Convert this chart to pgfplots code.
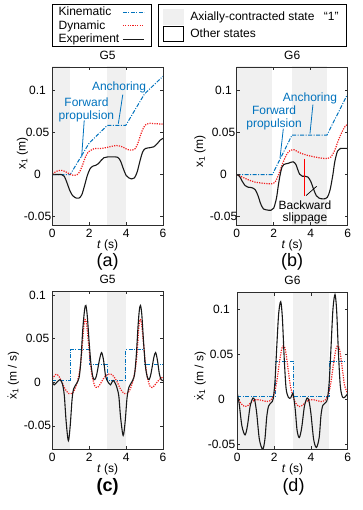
\documentclass[border=0pt]{standalone}
\usepackage{pgfplots}
\pgfplotsset{compat=1.18}
\usepackage{amsmath}
\usepackage{fontspec}
\setmainfont{Liberation Sans}

\definecolor{kblue}{RGB}{0,114,189}
\definecolor{dred}{RGB}{242,30,30}
\definecolor{bandgray}{RGB}{240,240,240}
\definecolor{axgray}{RGB}{45,45,45}

\newcommand{\fs}{\fontsize{12bp}{13.3bp}\selectfont}
\tikzset{annb/.style={kblue, line width=0.8bp}}

\pgfplotsset{
 panel/.style={
  scale only axis, anchor=south west,
  xmin=0, xmax=6, xtick={0,2,4,6}, xticklabels={0,2,4,6},
  tick align=inside, major tick length=3bp,
  axis line style={axgray, line width=0.8bp},
  tick style={axgray, line width=0.6bp},
  ticklabel style={font=\fs},
  xticklabel style={anchor=center, yshift=-8.5bp},
  label style={font=\fs},
  title style={font=\fs, at={(axis description cs:0.5,1)}, anchor=center, yshift=6bp},
  xlabel={\textit{t} (s)},
  xlabel style={at={(axis description cs:0.5,0)}, anchor=center, yshift=-20bp},
  axis on top,
  scaled y ticks=false,
  /pgf/number format/assume math mode=true,
 },
 kin/.style={kblue, line width=1bp, dash pattern=on 4bp off 1.5bp on 1bp off 1.5bp},
 dyn/.style={dred, line width=1.2bp, dash pattern=on 1.2bp off 1.2bp, smooth, tension=0.5},
 expm/.style={black!90, line width=1.1bp, smooth, tension=0.5},
 band/.style={fill=bandgray, draw=none, forget plot},
}

\begin{document}
\begin{tikzpicture}
\useasboundingbox (0,0) rectangle (363bp,510bp);

%% (a)
\begin{axis}[panel, at={(52.3bp,285bp)}, width=110.7bp, height=158bp,
  ymin=-0.06, ymax=0.128, ytick={-0.05,0,0.05,0.1}, yticklabels={-0.05,0,0.05,0.1},
  yticklabel style={anchor=center, xshift=-14.8bp},
  title={G5}, ylabel={x\textsubscript{1} (m)},
  ylabel style={at={(axis description cs:-0.2692,0.4525)}, anchor=center},
  legend style={at={(axis description cs:-0.0054,1.3968)}, anchor=north west, draw=black, line width=0.6bp,
    font=\fs, inner xsep=6.6bp, inner ysep=2.5bp, row sep=3.4bp, column sep=3bp, nodes={inner sep=0bp}},
  legend cell align=left, legend plot pos=right,
  legend image code/.code={\draw[#1] (0bp,0bp) -- (21.5bp,0bp);},
]
\addplot[band] coordinates {(0,-1) (0.97,-1) (0.97,1) (0,1)} -- cycle;
\addplot[band] coordinates {(2.98,-1) (3.98,-1) (3.98,1) (2.98,1)} -- cycle;
\addplot[kin] coordinates {(0,0) (0.97,0) (2.0,0.0375) (2.98,0.0585) (3.98,0.0585) (5.0,0.096) (6.0,0.117)};
\addlegendentry{\rule{0pt}{8.6bp}\smash{Kinematic}}
\addplot[dyn] coordinates {(0,0.001) (0.25,0.004) (0.5,0.005) (0.75,0.003) (1.0,0.000) (1.2,-0.001) (1.35,0.000) (1.5,0.004) (1.65,0.012) (1.8,0.021) (1.95,0.027) (2.1,0.029) (2.3,0.031) (2.6,0.031) (2.9,0.032) (3.2,0.0335) (3.5,0.0345) (3.8,0.033) (4.05,0.030) (4.3,0.029) (4.5,0.031) (4.65,0.038) (4.8,0.048) (4.95,0.056) (5.1,0.060) (5.3,0.061) (5.6,0.0605) (6.0,0.060)};
\addlegendentry{\rule{0pt}{8.6bp}\smash{Dynamic}}
\addplot[expm] coordinates {(0,0) (0.5,0) (0.65,-0.002) (0.8,-0.010) (0.95,-0.019) (1.1,-0.025) (1.3,-0.028) (1.45,-0.028) (1.6,-0.024) (1.75,-0.013) (1.9,-0.001) (2.05,0.007) (2.2,0.010) (2.35,0.011) (2.5,0.013) (2.65,0.017) (2.8,0.020) (3.0,0.021) (3.3,0.021) (3.55,0.0205) (3.7,0.016) (3.85,0.007) (4.0,-0.001) (4.15,-0.004) (4.3,-0.0052) (4.45,-0.004) (4.6,0.003) (4.75,0.016) (4.9,0.027) (5.05,0.031) (5.3,0.032) (5.5,0.033) (5.7,0.037) (5.85,0.041) (6.0,0.043)};
\addlegendentry{\rule{0pt}{8.6bp}\smash{Experiment}}
\node[kblue, font=\fs] at (axis cs:3.62,0.1035) {Anchoring};
\draw[annb] (axis cs:3.82,0.0951) -- (axis cs:3.58,0.0605);
\node[kblue, font=\fs, align=center] at (axis cs:1.85,0.0768) {Forward\\propulsion};
\draw[annb] (axis cs:1.73,0.0644) -- (axis cs:1.59,0.0206);
\end{axis}

%% (b)
\begin{axis}[panel, at={(236.7bp,285bp)}, width=111bp, height=158bp,
  ymin=-0.06, ymax=0.128, ytick={-0.05,0,0.05,0.1}, yticklabels={-0.05,0,0.05,0.1},
  yticklabel style={anchor=center, xshift=-13.2bp},
  title={G6}, ylabel={x\textsubscript{1} (m)},
  ylabel style={at={(axis description cs:-0.3306,0.464)}, anchor=center},
  legend style={at={(axis description cs:-0.7063,1.3987)}, anchor=north west, draw=black, line width=0.6bp,
    font=\fs, inner xsep=4.7bp, inner ysep=4.5bp, row sep=2bp, column sep=6.3bp, nodes={inner sep=0bp}},
  legend cell align=left,
]
\addlegendimage{legend image code/.code={\fill[bandgray] (0bp,-7.5bp) rectangle (20bp,7.5bp);}}
\addlegendentry{\rule{0pt}{8.6bp}\smash{Axially-contracted state}\kern9.4bp\smash{“1”}\kern2.6bp}
\addlegendimage{legend image code/.code={\draw[black, line width=0.8bp, fill=white] (0bp,-7.5bp) rectangle (20bp,7.5bp);}}
\addlegendentry{\rule{0pt}{8.6bp}\smash{Other states}}
\addplot[band] coordinates {(0,-1) (1.90,-1) (1.90,1) (0,1)} -- cycle;
\addplot[band] coordinates {(2.98,-1) (4.88,-1) (4.88,1) (2.98,1)} -- cycle;
\addplot[kin, forget plot] coordinates {(0,0) (1.93,0) (2.99,0.047) (4.88,0.047) (6.0,0.096)};
\addplot[dyn, forget plot] coordinates {(0,0) (0.3,-0.003) (0.6,-0.006) (1.0,-0.009) (1.5,-0.0105) (1.9,-0.011) (2.1,-0.008) (2.3,0.002) (2.5,0.014) (2.7,0.024) (2.9,0.029) (3.1,0.0295) (3.4,0.026) (3.8,0.023) (4.2,0.021) (4.6,0.0195) (4.9,0.019) (5.1,0.021) (5.3,0.029) (5.5,0.041) (5.7,0.051) (5.85,0.057) (6.0,0.060)};
\addplot[expm, forget plot] coordinates {(0,0) (0.15,-0.002) (0.3,-0.008) (0.45,-0.013) (0.6,-0.015) (0.8,-0.0155) (1.0,-0.018) (1.15,-0.025) (1.3,-0.035) (1.45,-0.041) (1.6,-0.042) (1.85,-0.0425) (2.0,-0.040) (2.15,-0.028) (2.25,-0.013) (2.35,0.000) (2.45,0.009) (2.55,0.012) (2.8,0.0135) (3.05,0.0152) (3.2,0.012) (3.3,0.006) (3.4,0.0005) (3.55,-0.002) (3.7,-0.002) (3.85,-0.003) (4.0,-0.008) (4.15,-0.017) (4.3,-0.025) (4.45,-0.028) (4.7,-0.029) (4.9,-0.027) (5.05,-0.018) (5.2,0.000) (5.3,0.015) (5.45,0.028) (5.6,0.031) (6.0,0.031)};
\node[kblue, font=\fs] at (axis cs:3.96,0.0904) {Anchoring};
\draw[annb] (axis cs:4.12,0.0832) -- (axis cs:3.96,0.0486);
\node[kblue, font=\fs, align=center] at (axis cs:2.02,0.0677) {Forward\\propulsion};
\draw[annb] (axis cs:2.52,0.0545) -- (axis cs:2.34,0.0195);
\node[black, font=\fontsize{12bp}{12.4bp}\selectfont, align=center] at (axis cs:3.69,-0.045) {Backward\\slippage};
\draw[red, line width=0.9bp] (axis cs:3.66,0.0187) -- (axis cs:3.66,-0.025);
\draw[black, line width=0.7bp] (axis cs:3.75,-0.025) -- (axis cs:4.32,-0.014);
\end{axis}

%% (c)
\begin{axis}[panel, at={(52.3bp,61bp)}, width=110.7bp, height=157.5bp,
  ymin=-0.0765, ymax=0.104, ytick={-0.05,0,0.05,0.1}, yticklabels={-0.05,0,0.05,0.1},
  yticklabel style={anchor=center, xshift=-14.8bp},
  title={G5}, ylabel={\ensuremath{\dot{\text{x}}}\textsubscript{1} (m / s)},
  ylabel style={at={(axis description cs:-0.3523,0.465)}, anchor=center},
]
\addplot[band] coordinates {(0,-1) (0.96,-1) (0.96,1) (0,1)} -- cycle;
\addplot[band] coordinates {(2.97,-1) (3.98,-1) (3.98,1) (2.97,1)} -- cycle;
\addplot[kin] coordinates {(0,0.002) (0.96,0.002) (0.96,0.037) (2.0,0.037) (2.0,0.0205) (2.97,0.0205) (2.97,0.002) (3.97,0.002) (3.97,0.037) (5.0,0.037) (5.0,0.0205) (6.0,0.0205)};
\addplot[dyn] coordinates {(0,0.004) (0.2,0.009) (0.35,0.007) (0.5,0.001) (0.7,-0.008) (0.9,-0.013) (1.05,-0.013) (1.2,-0.009) (1.35,0.0) (1.5,0.015) (1.6,0.035) (1.7,0.062) (1.77,0.072) (1.85,0.068) (1.95,0.048) (2.05,0.025) (2.15,0.008) (2.3,-0.004) (2.45,-0.006) (2.6,-0.002) (2.8,0.005) (3.0,0.009) (3.2,0.009) (3.35,0.006) (3.5,0.001) (3.7,-0.008) (3.9,-0.013) (4.05,-0.013) (4.2,-0.009) (4.35,0.0) (4.5,0.015) (4.6,0.035) (4.68,0.060) (4.75,0.072) (4.83,0.068) (4.93,0.048) (5.03,0.025) (5.13,0.008) (5.28,-0.004) (5.42,-0.006) (5.6,-0.002) (5.8,0.003) (6.0,0.006)};
\addplot[expm] coordinates {(0,0.0) (0.1,-0.003) (0.25,0.0) (0.42,0.003) (0.55,-0.002) (0.65,-0.015) (0.75,-0.045) (0.87,-0.067) (0.97,-0.050) (1.07,-0.020) (1.15,-0.008) (1.3,-0.002) (1.45,0.005) (1.55,0.025) (1.65,0.060) (1.75,0.083) (1.82,0.088) (1.9,0.075) (2.0,0.045) (2.1,0.020) (2.2,0.006) (2.3,0.003) (2.4,0.008) (2.55,0.025) (2.67,0.034) (2.78,0.025) (2.88,0.008) (2.97,0.002) (3.0,0.001) (3.15,-0.003) (3.3,0.002) (3.45,-0.003) (3.6,-0.015) (3.7,-0.040) (3.84,-0.061) (3.95,-0.045) (4.05,-0.018) (4.15,-0.006) (4.3,0.0) (4.45,0.008) (4.55,0.030) (4.65,0.065) (4.72,0.083) (4.78,0.088) (4.85,0.078) (4.95,0.045) (5.05,0.018) (5.15,0.006) (5.25,0.003) (5.35,0.010) (5.5,0.028) (5.6,0.034) (5.7,0.025) (5.8,0.010) (5.9,0.003) (6.0,0.002)};
\end{axis}

%% (d)
\begin{axis}[panel, at={(237.3bp,60.7bp)}, width=110.4bp, height=156.6bp,
  ymin=-0.056, ymax=0.118, ytick={-0.05,0,0.05,0.1}, yticklabels={-0.05,0,0.05,0.1},
  yticklabel style={anchor=center, xshift=-15.8bp},
  title={G6}, ylabel={\ensuremath{\dot{\text{x}}}\textsubscript{1} (m / s)},
  ylabel style={at={(axis description cs:-0.3379,0.469)}, anchor=center},
]
\addplot[band] coordinates {(0,-1) (2.05,-1) (2.05,1) (0,1)} -- cycle;
\addplot[band] coordinates {(3.04,-1) (4.98,-1) (4.98,1) (3.04,1)} -- cycle;
\addplot[kin] coordinates {(0,0.0026) (2.05,0.0026) (2.05,0.042) (3.04,0.042) (3.04,0.0026) (5.0,0.0026) (5.0,0.042) (6.0,0.042)};
\addplot[dyn] coordinates {(0,0.001) (0.2,-0.005) (0.4,-0.0085) (0.6,-0.007) (0.8,-0.003) (1.0,-0.001) (1.2,-0.001) (1.4,-0.002) (1.6,-0.003) (1.8,-0.002) (2.0,0.005) (2.15,0.020) (2.3,0.042) (2.42,0.056) (2.52,0.059) (2.62,0.054) (2.75,0.035) (2.88,0.015) (3.0,0.005) (3.15,-0.004) (3.35,-0.0085) (3.55,-0.007) (3.75,-0.003) (3.95,-0.001) (4.15,-0.001) (4.35,-0.002) (4.55,-0.003) (4.75,-0.002) (4.95,0.005) (5.1,0.020) (5.25,0.042) (5.37,0.056) (5.47,0.059) (5.57,0.054) (5.7,0.035) (5.83,0.015) (6.0,0.006)};
\addplot[expm] coordinates {(0,0.006) (0.1,-0.005) (0.25,-0.030) (0.42,-0.040) (0.55,-0.030) (0.7,-0.008) (0.85,0.001) (0.95,-0.002) (1.05,-0.015) (1.2,-0.045) (1.38,-0.056) (1.5,-0.045) (1.6,-0.020) (1.7,-0.008) (1.85,-0.004) (1.95,0.000) (2.05,0.020) (2.15,0.060) (2.25,0.095) (2.36,0.108) (2.45,0.090) (2.55,0.045) (2.65,0.012) (2.77,0.002) (2.9,0.001) (3.0,0.006) (3.05,0.004) (3.15,-0.012) (3.25,-0.035) (3.37,-0.043) (3.5,-0.032) (3.65,-0.008) (3.8,0.001) (3.9,-0.003) (4.0,-0.016) (4.15,-0.045) (4.3,-0.054) (4.45,-0.043) (4.55,-0.018) (4.65,-0.007) (4.8,-0.004) (4.9,0.000) (5.0,0.020) (5.1,0.060) (5.2,0.100) (5.31,0.116) (5.4,0.098) (5.5,0.050) (5.6,0.014) (5.72,0.002) (5.85,0.002) (6.0,0.006)};
\end{axis}

\node[font=\fontsize{18bp}{18bp}\selectfont] at (107.7bp,248bp) {(a)};
\node[font=\fontsize{18bp}{18bp}\selectfont] at (292.2bp,248bp) {(b)};
\node[font=\fontsize{18bp}{18bp}\selectfont\bfseries] at (107.7bp,23bp) {(c)};
\node[font=\fontsize{18bp}{18bp}\selectfont] at (293.5bp,23bp) {(d)};
\end{tikzpicture}
\end{document}
